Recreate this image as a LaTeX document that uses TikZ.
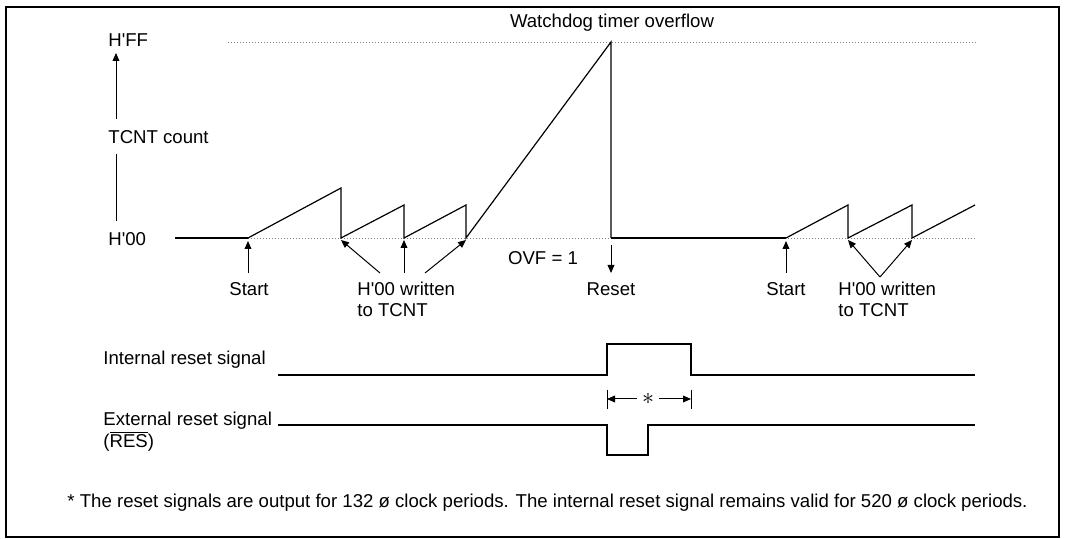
\documentclass[tikz,border=0pt]{standalone}
\usepackage{fontspec}
\setmainfont{Liberation Sans}
\usetikzlibrary{arrows.meta}
\newcommand{\sq}{\textquotesingle}
\begin{document}
\begin{tikzpicture}[x=0.5pt,y=-0.5pt,
  lbl/.style={inner sep=0pt,font=\fontsize{9.3}{10.5}\selectfont},
  wave/.style={line width=0.6pt,line join=miter},
  base/.style={line width=0.75pt},
  dotln/.style={line width=0.45pt,gray,dash pattern=on 0.5pt off 1pt},
  arr/.style={line width=0.5pt,-{Triangle[length=4pt,width=3.4pt]}},
  tick/.style={line width=0.5pt},
]
\useasboundingbox (0,0) rectangle (1065,539);
\draw[line width=0.8pt] (6,7) rectangle (1059,537);

% axis labels
\node[lbl,anchor=center] (wdt) at (612,23) {Watchdog timer overflow};
\node[lbl,anchor=west] (hff) at (108,40) {H\sq FF};
\node[lbl,anchor=west] (tcnt) at (108,137) {TCNT count};
\node[lbl,anchor=west] (h00) at (108,239) {H\sq 00};
\coordinate (axtop) at (116,53);
\coordinate (axmid1) at (116,119);
\coordinate (axmid2) at (116,154);
\coordinate (axbot) at (116,221);
\draw[arr] (axmid1) -- (axtop);
\draw[line width=0.5pt] (axbot) -- (axmid2);

% wave points
\coordinate (w0) at (248,238);
\coordinate (w1) at (341,188);
\coordinate (w2) at (341,238);
\coordinate (w3) at (404,205);
\coordinate (w4) at (404,238);
\coordinate (w5) at (466,205);
\coordinate (w6) at (466,238);
\coordinate (w7) at (611,42);
\coordinate (w8) at (611,238);
\coordinate (w9) at (786,238);
\coordinate (w10) at (848,205);
\coordinate (w11) at (848,238);
\coordinate (w12) at (912,205);
\coordinate (w13) at (912,238);
\coordinate (w14) at (975,205);
\coordinate (b0) at (175,238);
\coordinate (dffl) at (228,42);
\coordinate (dffr) at (977,42);
\coordinate (d00r) at (977,238);

% dotted reference lines
\draw[dotln] (dffl) -- (dffr);
\draw[dotln] (w0) -- (d00r);

% waveform
\draw[base] (b0) -- (w0);
\draw[wave] (w0) -- (w1) -- (w2) -- (w3) -- (w4) -- (w5) -- (w6) -- (w7) -- (w8);
\draw[base] (w8) -- (w9);
\draw[wave] (w9) -- (w10) -- (w11) -- (w12) -- (w13) -- (w14);

% annotations below
\node[lbl] (start1) at (249,289) {Start};
\node[lbl,anchor=west,align=left] (hw1) at (357,299.5) {H\sq 00 written\\to TCNT};
\node[lbl] (ovf) at (543,258) {OVF = 1};
\node[lbl] (reset) at (611,289) {Reset};
\node[lbl] (start2) at (786,289) {Start};
\node[lbl,anchor=west,align=left] (hw2) at (838,299.5) {H\sq 00 written\\to TCNT};

\coordinate (s1t) at (248,273);
\coordinate (s1h) at (248,241);
\draw[arr] (s1t) -- (s1h);
\coordinate (h1a) at (380,273);
\coordinate (h1b) at (404,273);
\coordinate (h1c) at (425,273);
\draw[arr] (h1a) -- (341,240);
\draw[arr] (h1b) -- (404,240);
\draw[arr] (h1c) -- (466,240);
\coordinate (rt) at (611,245);
\coordinate (rh) at (611,273);
\draw[arr] (rt) -- (rh);
\coordinate (s2t) at (786,273);
\coordinate (s2h) at (786,241);
\draw[arr] (s2t) -- (s2h);
\coordinate (h2a) at (880,277);
\draw[arr] (h2a) -- (848,240);
\draw[arr] (h2a) -- (912,240);

% internal reset
\node[lbl,anchor=west] (irs) at (103,360) {Internal reset signal};
\draw[wave] (278,375) -- (607,375) -- (607,344) -- (691,344) -- (691,375) -- (975,375);

% dimension
\draw[tick] (607,390) -- (607,409);
\draw[tick] (691,390) -- (691,409);
\node[lbl] (star) at (648,399) {\large$\ast$};
\coordinate (dl) at (607,399);
\coordinate (dr) at (691,399);
\draw[arr] ([xshift=-5.5pt]star.center) -- (dl);
\draw[arr] ([xshift=5.5pt]star.center) -- (dr);

% external reset
\node[lbl,anchor=west,align=left,font=\fontsize{9.3}{11}\selectfont] (ers) at (103,432) {External reset signal\\($\overline{\hbox{RES}}$)};
\draw[wave] (278,425) -- (607,425) -- (607,455) -- (648,455) -- (648,425) -- (975,425);

% footnote
\node[lbl] (note) at (547.5,503) {* The reset signals are output for 132 ø clock periods. The internal reset signal remains valid for 520 ø clock periods.};
\end{tikzpicture}
\end{document}
